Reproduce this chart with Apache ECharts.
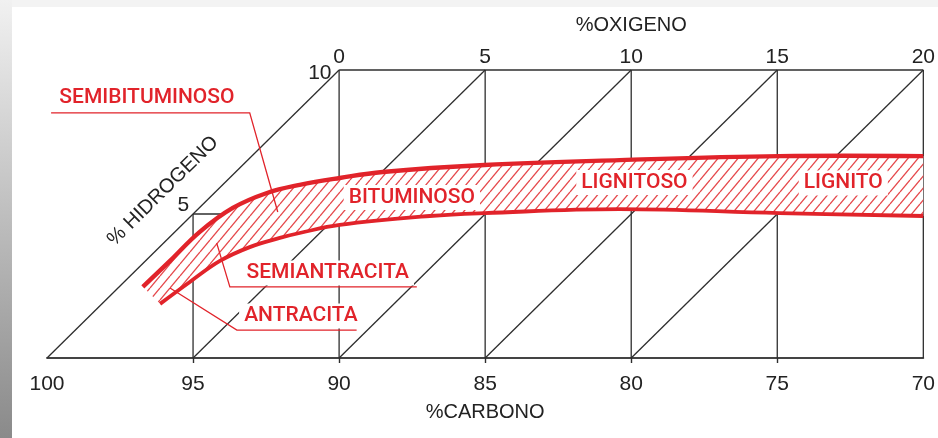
<!DOCTYPE html>
<html>
<head>
<meta charset="utf-8">
<title>Clasificación de carbones</title>
<script src="https://cdn.jsdelivr.net/npm/echarts@6/dist/echarts.min.js"></script>
<style>
  html, body { margin: 0; padding: 0; }
  #frame { position: relative; width: 938px; height: 438px; background: #f3f3f3; overflow: hidden; }
  #edge { position: absolute; left: 0; top: 0; width: 12px; height: 438px; background: linear-gradient(#f1f1f1, #8a8a8a); }
  #paper { position: absolute; left: 12px; top: 7px; right: 0; bottom: 0; background: #fff; }
  #chart { position: absolute; left: 0; top: 0; width: 938px; height: 438px; }
</style>
</head>
<body>
<div id="frame"><div id="edge"></div><div id="paper"></div><div id="chart"></div></div>
<script>
// ---- Axis ticks -------------------------------------------------------
const carbonTicks = [100, 95, 90, 85, 80, 75, 70];      // %C, bottom scale
const carbonTickMarks = [95, 90, 85, 80, 75];           // small crosses on the base line
const oxygenTicks = [0, 5, 10, 15, 20];                 // %O, top scale (O = 90 - C)
const hydrogenTicks = [10, 5];                          // %H, read along the slanted axis

// ---- Diagram rules (carbon, hydrogen) ---------------------------------
const verticalRuleCarbon = [95, 90, 85, 80, 75, 70];
const verticalRuleTop = [5, 10, 10, 10, 10, 10];
const diagonalRuleCarbon = [100, 95, 90, 85, 80];       // each climbs to carbon - 10 at H = 10

// ---- Coal band edges ---------------------------------------------------
const upperEdgeCarbon = [96.72, 95.79, 94.77, 93.64, 92.47, 91.35, 89.98, 88.51, 85.02, 80.40, 74.93, 70.00];
const upperEdgeHydrogen = [2.47, 3.37, 4.38, 5.21, 5.73, 6.01, 6.25, 6.46, 6.70, 6.87, 7.01, 7.01];
const lowerEdgeCarbon = [96.13, 95.11, 94.08, 93.06, 92.03, 91.35, 89.98, 86.90, 85.02, 80.40, 74.93, 70.00];
const lowerEdgeHydrogen = [1.88, 2.64, 3.37, 3.85, 4.17, 4.34, 4.62, 4.93, 5.03, 5.17, 5.03, 4.93];

// ---- Rank names inside the band ---------------------------------------
const zoneNames = ['BITUMINOSO', 'LIGNITOSO', 'LIGNITO'];
const zoneCarbon = [87.51, 79.89, 72.74];
const zoneHydrogen = [5.57, 6.09, 6.08];

// ---- Rank names with leader lines --------------------------------------
const calloutNames = ['SEMIBITUMINOSO', 'SEMIANTRACITA', 'ANTRACITA'];
const calloutTextCarbon = [96.58, 90.39, 91.31];
const calloutTextHydrogen = [9.03, 2.95, 1.46];
const calloutLeaderCarbon = [[92.10, 93.06, 99.86], [94.19, 93.74, 87.34], [95.79, 93.50, 89.40]];
const calloutLeaderHydrogen = [[5.07, 8.51, 8.51], [3.99, 2.47, 2.47], [2.43, 0.97, 0.97]];

// ---- Scale captions ----------------------------------------------------
const hydrogenLabelCarbon = [90.66, 95.33];
const hydrogenLabelHydrogen = [9.88, 5.30];
const hydrogenTitle = { text: '% HIDROGENO', carbon: 96.03, hydrogen: 5.80 };
const oxygenTitle = { text: '%OXIGENO', carbon: 80.0, hydrogen: 11.55 };

const INK = '#2e2e2e';
const RED = '#e1232a';
const HATCH = '#e5474b';
const AXIS_FONT = 'Liberation Sans, Arial, sans-serif';
const RED_FONT = 'Roboto, Liberation Sans, sans-serif';

// Hatch tile: parallel strokes rising to the right.
const hatch = (function () {
  const w = 10, h = 12;
  const c = document.createElement('canvas');
  c.width = w; c.height = h;
  const ctx = c.getContext('2d');
  ctx.strokeStyle = HATCH;
  ctx.lineWidth = 1.3;
  [-w, 0, w].forEach(function (x0) {
    ctx.beginPath();
    ctx.moveTo(x0, h);
    ctx.lineTo(x0 + w, 0);
    ctx.stroke();
  });
  return c;
})();

function seg(a, b, stroke, width) {
  return { type: 'line', shape: { x1: a[0], y1: a[1], x2: b[0], y2: b[1] },
           style: { stroke: stroke, lineWidth: width } };
}

function renderRules(params, api) {
  const children = [];
  verticalRuleCarbon.forEach(function (c, i) {
    children.push(seg(api.coord([c, 0]), api.coord([c, verticalRuleTop[i]]), INK, 1.3));
  });
  diagonalRuleCarbon.forEach(function (c) {
    children.push(seg(api.coord([c, 0]), api.coord([c - 10, 10]), INK, 1.3));
  });
  children.push(seg(api.coord([90, 10]), api.coord([70, 10]), INK, 1.5));
  children.push(seg(api.coord([95, 5]), api.coord([90, 5]), INK, 1.3));
  return { type: 'group', children: children };
}

function renderBand(params, api) {
  const up = upperEdgeCarbon.map(function (c, i) { return api.coord([c, upperEdgeHydrogen[i]]); });
  const lo = lowerEdgeCarbon.map(function (c, i) { return api.coord([c, lowerEdgeHydrogen[i]]); });
  const ring = up.concat(lo.slice().reverse());
  return {
    type: 'group',
    children: [
      { type: 'polygon', shape: { points: ring }, style: { fill: '#fff' } },
      { type: 'polygon', shape: { points: ring }, style: { fill: { image: hatch, repeat: 'repeat' } } },
      { type: 'polyline', shape: { points: up, smooth: 0.4 }, style: { stroke: RED, lineWidth: 4.4, fill: null } },
      { type: 'polyline', shape: { points: lo, smooth: 0.4 }, style: { stroke: RED, lineWidth: 3.8, fill: null } }
    ]
  };
}

function label(p, text, color, font, bg) {
  return {
    type: 'text', x: p[0], y: p[1],
    style: { text: text, x: 0, y: 0, align: 'center', verticalAlign: 'middle', fill: color, font: font,
             backgroundColor: bg ? '#fff' : null, padding: bg ? [2, 5] : 0 }
  };
}

function renderNotes(params, api) {
  const children = [];
  const redFont = '500 21px ' + RED_FONT;
  zoneNames.forEach(function (name, i) {
    children.push(label(api.coord([zoneCarbon[i], zoneHydrogen[i]]), name, RED, redFont, true));
  });
  calloutNames.forEach(function (name, i) {
    const pts = calloutLeaderCarbon[i].map(function (c, j) { return api.coord([c, calloutLeaderHydrogen[i][j]]); });
    children.push({ type: 'polyline', shape: { points: pts }, style: { stroke: RED, lineWidth: 1.3, fill: null } });
  });
  calloutNames.forEach(function (name, i) {
    children.push(label(api.coord([calloutTextCarbon[i], calloutTextHydrogen[i]]), name, RED, redFont, true));
  });
  const inkFont = '21px ' + AXIS_FONT;
  hydrogenTicks.forEach(function (h, i) {
    children.push(label(api.coord([hydrogenLabelCarbon[i], hydrogenLabelHydrogen[i]]), String(h), '#222', inkFont, false));
  });
  children.push(label(api.coord([oxygenTitle.carbon, oxygenTitle.hydrogen]), oxygenTitle.text, '#222', '20px ' + AXIS_FONT, false));
  const a = api.coord([100, 0]), b = api.coord([90, 10]);
  const t = label(api.coord([hydrogenTitle.carbon, hydrogenTitle.hydrogen]), hydrogenTitle.text, '#222', '20px ' + AXIS_FONT, false);
  t.rotation = Math.atan2(a[1] - b[1], b[0] - a[0]);
  children.push(t);
  return { type: 'group', children: children };
}

const chart = echarts.init(document.getElementById('chart'), null, { renderer: 'canvas' });
chart.setOption({
  backgroundColor: 'transparent',
  animation: false,
  grid: { left: 47, right: 14, top: 70, bottom: 80, containLabel: false },
  xAxis: [{
    type: 'value', min: 70, max: 100, interval: 5, inverse: true, position: 'bottom',
    axisLine: { show: true, lineStyle: { color: '#444', width: 1.8 } },
    axisTick: { show: true, customValues: carbonTickMarks, length: 5, lineStyle: { color: INK, width: 1.4 } },
    axisLabel: { customValues: carbonTicks, showMinLabel: true, showMaxLabel: true, margin: 16,
                 color: '#222', fontSize: 21, fontFamily: AXIS_FONT },
    splitLine: { show: false },
    name: '%CARBONO', nameLocation: 'middle', nameGap: 44,
    nameTextStyle: { color: '#222', fontSize: 20, fontFamily: AXIS_FONT }
  }, {
    type: 'value', min: 70, max: 100, interval: 5, inverse: true, position: 'top',
    axisLine: { show: false }, axisTick: { show: false }, splitLine: { show: false },
    axisLabel: { customValues: oxygenTicks.map(function (o) { return 90 - o; }),
                 showMinLabel: true, showMaxLabel: true,
                 formatter: function (v) { return String(90 - v); },
                 margin: 2, color: '#222', fontSize: 21, fontFamily: AXIS_FONT }
  }],
  yAxis: { type: 'value', min: 0, max: 10, show: false },
  series: [
    { type: 'custom', name: 'rules', renderItem: renderRules, data: [[85, 5]], z: 1, silent: true },
    { type: 'custom', name: 'band', renderItem: renderBand, data: [[85, 5]], z: 2, silent: true },
    { type: 'custom', name: 'notes', renderItem: renderNotes, data: [[85, 5]], z: 3, silent: true }
  ]
});
</script>
</body>
</html>
